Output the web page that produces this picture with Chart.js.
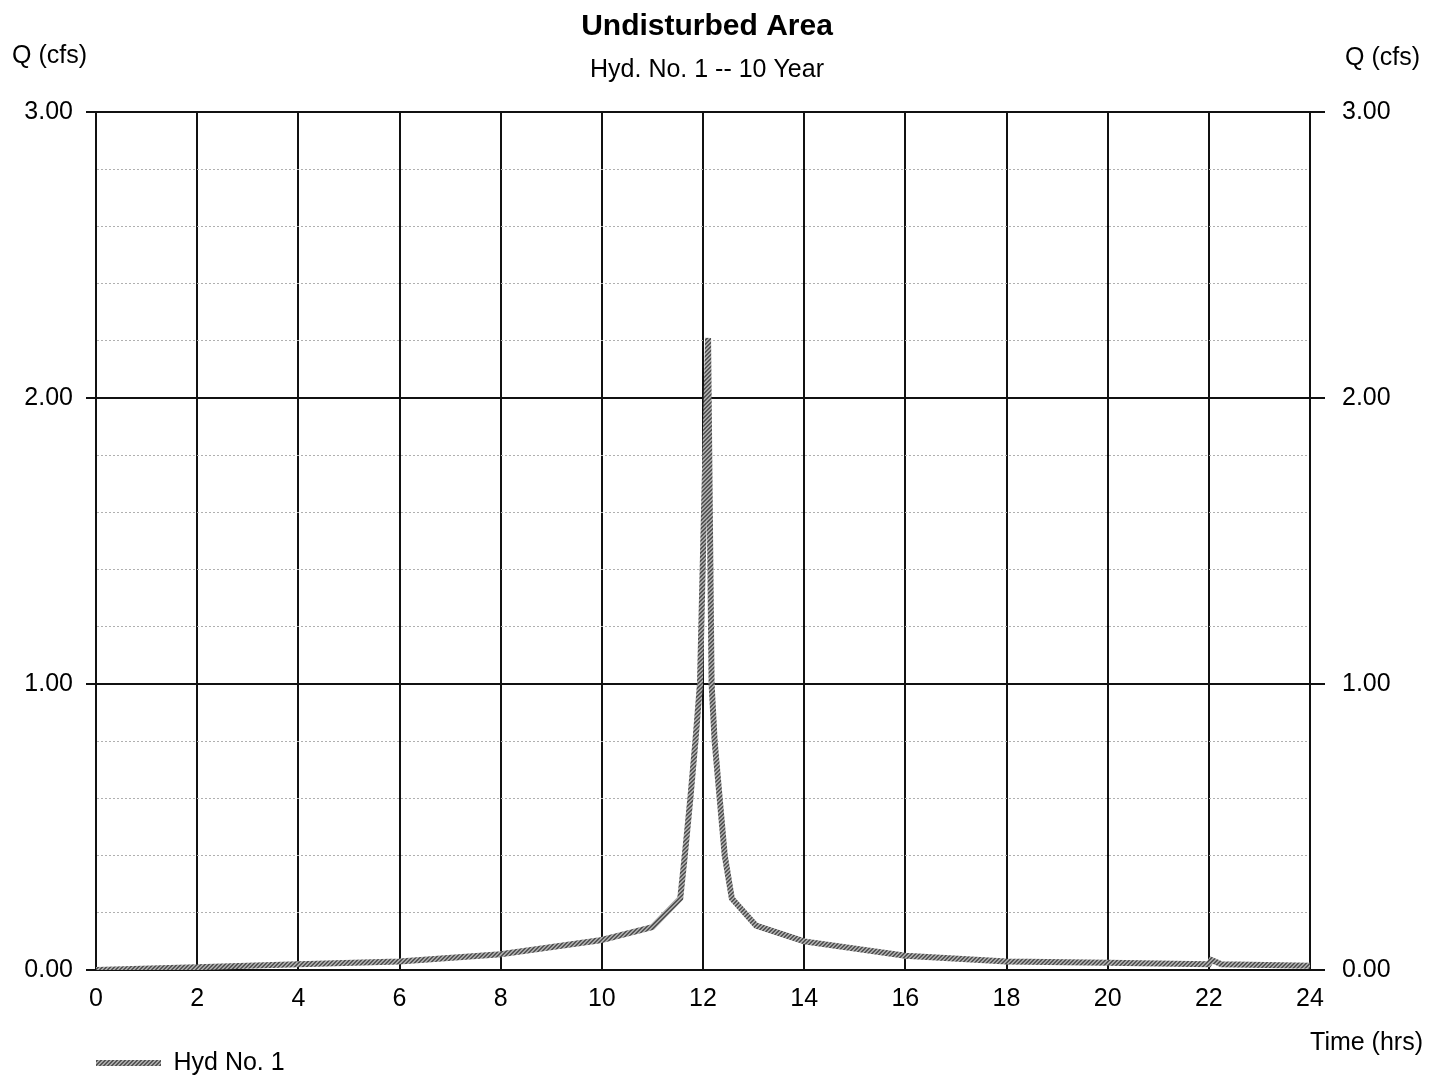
<!DOCTYPE html>
<html>
<head>
<meta charset="utf-8">
<title>Undisturbed Area</title>
<script src="https://cdn.jsdelivr.net/npm/chart.js@4.4.1/dist/chart.umd.min.js"></script>
<style>
  html, body { margin: 0; padding: 0; background: #fff; }
  canvas { display: block; }
</style>
</head>
<body>
<canvas id="hydroChart" width="1429" height="1076"></canvas>
<script>
// hydrograph (hrs, cfs)
const times = [0, 2, 4, 6, 8, 10, 11, 11.55, 11.64, 11.75, 11.85, 11.94, 12.1, 12.17, 12.23, 12.33, 12.43, 12.57, 13.05, 14, 16, 18, 20, 22, 22.05, 22.25, 24];
const flows = [0, 0.01, 0.02, 0.03, 0.055, 0.105, 0.15, 0.25, 0.4, 0.6, 0.8, 1.0, 2.21, 1.0, 0.8, 0.6, 0.4, 0.25, 0.155, 0.1, 0.05, 0.03, 0.025, 0.02, 0.035, 0.02, 0.015];
const xTicks = [0, 2, 4, 6, 8, 10, 12, 14, 16, 18, 20, 22, 24];
const yTicks = [0, 1, 2, 3];

const titleText = 'Undisturbed Area';
const subtitleText = 'Hyd. No. 1 -- 10 Year';
const seriesName = 'Hyd No. 1';
const yLabel = 'Q (cfs)';
const xLabel = 'Time (hrs)';

Chart.defaults.font.family = "'Liberation Sans', Arial, Helvetica, sans-serif";
Chart.defaults.color = '#000';

const isMajor = v => yTicks.some(t => Math.abs(t - v) < 1e-6);

// grey hatched stroke like the printed line
function hatchPattern() {
  const c = document.createElement('canvas');
  c.width = 4; c.height = 4;
  const g = c.getContext('2d');
  g.fillStyle = '#a8a8a8';
  g.fillRect(0, 0, 4, 4);
  g.fillStyle = '#555';
  for (let x = 0; x < 4; x++) {
    for (let y = 0; y < 4; y++) {
      if ((x + y) % 4 === 0 || (x + y) % 4 === 1) g.fillRect(x, y, 1, 1);
    }
  }
  return g.createPattern(c, 'repeat');
}

const sideText = {
  id: 'sideText',
  afterDraw(chart) {
    const ctx = chart.ctx;
    ctx.save();
    ctx.font = "25px 'Liberation Sans', Arial, sans-serif";
    ctx.fillStyle = '#000';
    ctx.textBaseline = 'middle';
    ctx.textAlign = 'left';
    ctx.fillText(yLabel, 12, 56);
    ctx.fillText(yLabel, 1345, 58);
    ctx.textAlign = 'right';
    ctx.fillText(xLabel, 1423, 1043);
    ctx.restore();
  }
};

const ctx = document.getElementById('hydroChart');

new Chart(ctx, {
  type: 'line',
  data: {
    datasets: [{
      label: seriesName,
      data: times.map((t, i) => ({ x: t, y: flows[i] })),
      borderColor: hatchPattern(),
      borderWidth: 6,
      pointRadius: 0,
      tension: 0,
      fill: false
    }]
  },
  options: {
    responsive: false,
    animation: false,
    layout: { padding: { top: 9, left: 0, right: 15, bottom: 0 } },
    plugins: {
      title: {
        display: true,
        text: titleText,
        font: { size: 30, weight: 'bold' },
        padding: { top: 0, bottom: 0 }
      },
      subtitle: {
        display: true,
        text: subtitleText,
        font: { size: 25 },
        color: '#000',
        padding: { top: 10, bottom: 27 }
      },
      legend: {
        position: 'bottom',
        align: 'start',
        fullSize: false,
        maxHeight: 25.5,
        labels: {
          usePointStyle: true,
          pointStyle: 'line',
          pointStyleWidth: 65,
          padding: 0,
          font: { size: 25 },
          color: '#000'
        }
      },
      tooltip: { enabled: false }
    },
    scales: {
      x: {
        type: 'linear',
        min: 0,
        max: 24,
        afterFit: s => { s.height = 80.5; },
        afterBuildTicks: s => { s.ticks = xTicks.map(v => ({ value: v })); },
        ticks: { padding: 14, font: { size: 25 }, color: '#000' },
        grid: { color: '#111', lineWidth: 2, drawTicks: false },
        border: { color: '#111', width: 2 }
      },
      y: {
        position: 'left',
        min: 0,
        max: 3,
        afterFit: s => { s.width = 96; },
        ticks: {
          stepSize: 0.2,
          autoSkip: false,
          padding: 13,
          font: { size: 25 },
          color: '#000',
          callback: v => isMajor(v) ? v.toFixed(2) : ''
        },
        grid: {
          color: c => (c.tick && isMajor(c.tick.value)) ? '#111' : '#b0b0b0',
          lineWidth: c => (c.tick && isMajor(c.tick.value)) ? 2 : 1,
          tickColor: c => (c.tick && isMajor(c.tick.value)) ? '#111' : 'rgba(0,0,0,0)',
          tickLength: 10
        },
        border: {
          color: '#111',
          width: 2,
          dash: c => (c.tick && !isMajor(c.tick.value)) ? [2, 2] : []
        }
      },
      y2: {
        position: 'right',
        min: 0,
        max: 3,
        afterFit: s => { s.width = 104; },
        afterBuildTicks: s => { s.ticks = yTicks.map(v => ({ value: v })); },
        ticks: {
          padding: 17,
          font: { size: 25 },
          color: '#000',
          callback: v => Number(v).toFixed(2)
        },
        grid: { drawOnChartArea: false, color: '#111', tickColor: '#111', lineWidth: 2, tickLength: 15 },
        border: { color: '#111', width: 2 }
      }
    }
  },
  plugins: [sideText]
});
</script>
</body>
</html>
